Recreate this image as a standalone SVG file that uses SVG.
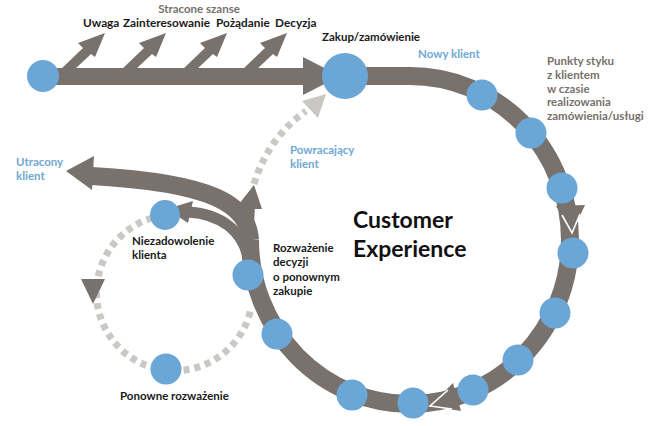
<svg xmlns="http://www.w3.org/2000/svg" width="658" height="426" viewBox="0 0 658 426">
<style>
.band{fill:none;stroke:#78716c;}
.dg{fill:#78716c;}
.wh{fill:none;stroke:#ffffff;stroke-width:1.6;stroke-linejoin:miter;}
.dash{fill:none;stroke:#cac8c5;stroke-width:7;stroke-dasharray:6 5;}
.lg{fill:#cac8c5;}
.dot{fill:#6aa7d6;}
text{font-family:Lato,"Open Sans","Liberation Sans",sans-serif;font-weight:700;font-size:11.5px;}
.k{fill:#1a1a1a;}
.g{fill:#77706b;}
.b{fill:#6fa8d3;}
.top{font-size:11.8px;}
.big{font-size:23px;fill:#111111;}
</style>
<rect width="658" height="426" fill="#ffffff"/>
<g id="connectors">
  <!-- main straight arrow -->
  <line class="band" x1="43" y1="76.5" x2="305" y2="76.5" stroke-width="17"/>
  <polygon class="dg" points="303,57 303,95 340,76"/>
  <!-- lost-chance arrows -->
  <g id="lost-arrows">
    <polygon class="dg" points="60,70 83,48 78,43 105,33 95,57 91,54 74,70"/>
    <polygon class="dg" points="121,70 144,48 139,43 166,33 156,57 152,54 135,70"/>
    <polygon class="dg" points="182,70 205,48 200,43 227,33 217,57 213,54 196,70"/>
    <polygon class="dg" points="242,70 265,48 260,43 287,33 277,57 273,54 256,70"/>
  </g>
  <!-- customer experience loop -->
  <path class="band" d="M345,76 H410 A160 164 0 1 1 250,240" stroke-width="18"/>
  <!-- lost client branch -->
  <path class="band" d="M250,240 C248,205 215,183 92,176" stroke-width="18"/>
  <polygon class="dg" points="94,156 92,190 66,171"/>
  <!-- dissatisfied branch -->
  <path class="band" d="M249,262 C244,230 220,214 188,212" stroke-width="11"/>
  <polygon class="dg" points="193,201 188,223 167,209"/>
  <!-- returning branch -->
  <path class="band" d="M247,244 L249,206" stroke-width="12"/>
  <polygon class="dg" points="235,209 262,209 254,185"/>
  <!-- returning dashed -->
  <path class="dash" d="M254,184 Q268,138 306,111"/>
  <polygon class="lg" points="302,101 318,118 326,94"/>
  <!-- reconsideration dashed loop -->
  <path class="dash" d="M152,218 A78 78 0 1 0 251,308"/>
  <polygon class="dg" points="81,279 105,279 93,304"/>
  <!-- loop arrowheads -->
  <polygon class="dg" points="556,206 585,205 572,233"/>
  <polyline class="wh" points="562,215 572,233 580,214"/>
  <polygon class="dg" points="453,383 461,411 430,406"/>
  <polyline class="wh" points="448,390 430,406 452,409"/>
</g>
<g id="node-start"><circle class="dot" cx="43" cy="76" r="16"/></g>
<g id="node-purchase"><circle class="dot" cx="345" cy="76" r="23"/>
  <text class="k" x="322" y="41">Zakup/zamówienie</text></g>
<g id="node-new"><circle class="dot" cx="482" cy="95" r="15.5"/>
  <text class="b" x="418" y="58">Nowy klient</text></g>
<g id="node-touchpoints">
  <circle class="dot" cx="531" cy="133" r="15.5"/>
  <circle class="dot" cx="562" cy="188" r="15.5"/>
  <circle class="dot" cx="573" cy="253" r="15.5"/>
  <circle class="dot" cx="555" cy="313" r="15.5"/>
  <circle class="dot" cx="518" cy="360" r="15.5"/>
  <circle class="dot" cx="473" cy="390" r="15.5"/>
  <circle class="dot" cx="413" cy="403" r="15.5"/>
  <circle class="dot" cx="352" cy="395" r="15.5"/>
  <circle class="dot" cx="277" cy="334" r="15.5"/>
  <text class="g" x="547" y="65"><tspan x="547">Punkty styku</tspan><tspan x="547" dy="13.8">z klientem</tspan><tspan x="547" dy="13.8">w czasie</tspan><tspan x="547" dy="13.8">realizowania</tspan><tspan x="547" dy="13.8">zamówienia/usługi</tspan></text>
</g>
<g id="node-reconsider-decision"><circle class="dot" cx="248" cy="275" r="15.5"/>
  <text class="k" x="273" y="252"><tspan x="273">Rozważenie</tspan><tspan x="273" dy="14.3">decyzji</tspan><tspan x="273" dy="14.3">o ponownym</tspan><tspan x="273" dy="14.3">zakupie</tspan></text></g>
<g id="node-dissatisfied"><circle class="dot" cx="165" cy="215" r="15"/>
  <text class="k" x="132" y="245"><tspan x="132">Niezadowolenie</tspan><tspan x="132" dy="14">klienta</tspan></text></g>
<g id="node-reconsider"><circle class="dot" cx="166" cy="369" r="15.5"/>
  <text class="k" x="120" y="400">Ponowne rozważenie</text></g>
<g id="labels">
  <text class="g" x="199" y="13" text-anchor="middle">Stracone szanse</text>
  <text class="k top" x="83" y="27">Uwaga</text>
  <text class="k top" x="123" y="27">Zainteresowanie</text>
  <text class="k top" x="216" y="27">Pożądanie</text>
  <text class="k top" x="275" y="27">Decyzja</text>
  <text class="b" x="16" y="166"><tspan x="16">Utracony</tspan><tspan x="16" dy="14">klient</tspan></text>
  <text class="b" x="290" y="154"><tspan x="290">Powracający</tspan><tspan x="290" dy="14">klient</tspan></text>
  <text class="big" x="353" y="228"><tspan x="353">Customer</tspan><tspan x="353" dy="29">Experience</tspan></text>
</g>
</svg>
